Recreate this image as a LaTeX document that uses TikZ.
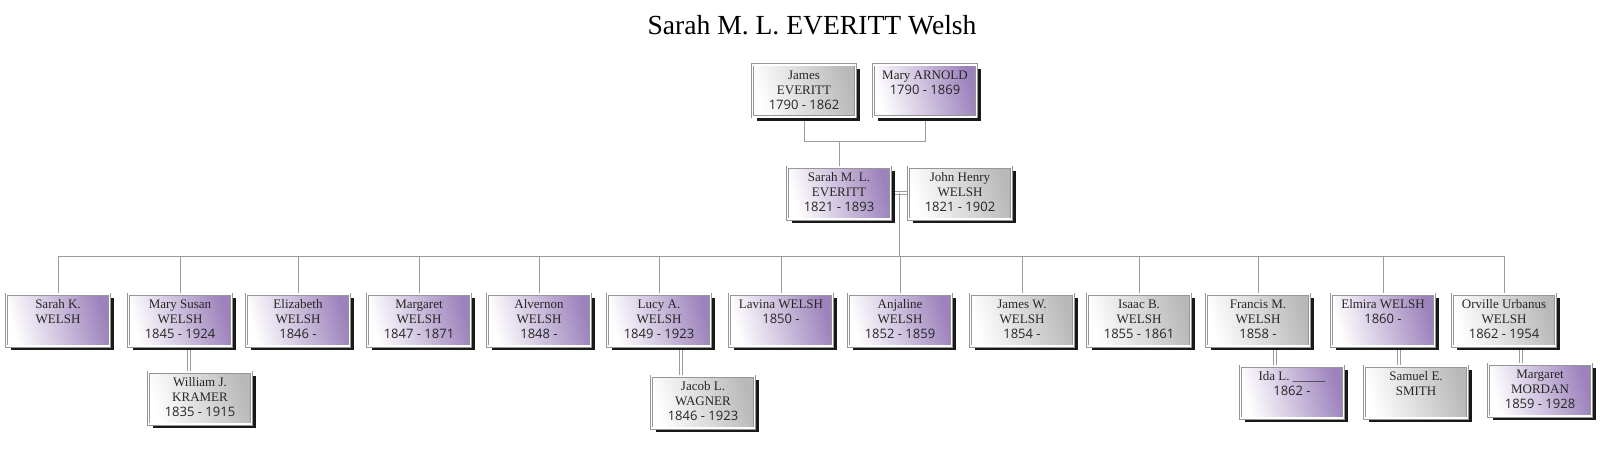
\documentclass[tikz,border=0pt]{standalone}
\usepackage{fontspec}
\newfontfamily\datefont{Open Sans}
\newfontfamily\namefont{Liberation Serif}
\usepackage{tikz}
\usetikzlibrary{calc,shadows,backgrounds}
\definecolor{femcol}{RGB}{156,130,188}
\definecolor{malcol}{RGB}{184,184,184}
\definecolor{linecol}{RGB}{155,155,155}
\definecolor{boxedge}{RGB}{150,150,150}

\newcommand{\famtext}[1]{\parbox[t][22pt][t]{50pt}{\centering\namefont\fontsize{6.5}{7.5}\selectfont\strut#1}}
\newcommand{\yrs}[1]{{\datefont\fontsize{6.5}{7.5}\selectfont #1}}

\tikzset{
  personbox/.style={rectangle, minimum width=51.5pt, minimum height=26pt, inner xsep=0pt, inner ysep=2pt,
    draw=boxedge, line width=0.45pt, double=white, double distance=0.6pt, text=black!85,
    drop shadow={shadow xshift=2pt, shadow yshift=-2pt, fill=black, opacity=0.9}},
  femalebox/.style={personbox, left color=white, right color=femcol, shading angle=105},
  malebox/.style={personbox, left color=white, right color=malcol, shading angle=105},
  kinline/.style={draw=linecol, line width=0.5pt},
  wedline/.style={draw=linecol, line width=0.45pt, double=white, double distance=0.7pt}
}

\begin{document}
\begin{tikzpicture}[x=0.5pt, y=-0.5pt]
  \useasboundingbox (0,0) rectangle (1600,449);

  \node[font=\namefont\fontsize{13.8}{16}\selectfont] (title) at (812,25) {Sarah M. L. EVERITT Welsh};

  % Parents
  \node[malebox] (jeveritt) at (804,91) {\famtext{James\\EVERITT\\\yrs{1790 - 1862}}};
  \node[femalebox] (marnold) at (925,91) {\famtext{Mary ARNOLD\\\yrs{1790 - 1869}}};

  % Couple
  \node[femalebox] (sarahev) at (839,193) {\famtext{Sarah M. L.\\EVERITT\\\yrs{1821 - 1893}}};
  \node[malebox] (jhwelsh) at (960,193) {\famtext{John Henry\\WELSH\\\yrs{1821 - 1902}}};

  % Children
  \node[femalebox] (sarahk) at (58,320) {\famtext{Sarah K.\\WELSH}};
  \node[femalebox] (msusan) at (180,320) {\famtext{Mary Susan\\WELSH\\\yrs{1845 - 1924}}};
  \node[femalebox] (elizab) at (298,320) {\famtext{Elizabeth\\WELSH\\\yrs{1846 -}}};
  \node[femalebox] (margar) at (419,320) {\famtext{Margaret\\WELSH\\\yrs{1847 - 1871}}};
  \node[femalebox] (alvern) at (539,320) {\famtext{Alvernon\\WELSH\\\yrs{1848 -}}};
  \node[femalebox] (lucya) at (659,320) {\famtext{Lucy A.\\WELSH\\\yrs{1849 - 1923}}};
  \node[femalebox] (lavina) at (781,320) {\famtext{Lavina WELSH\\\yrs{1850 -}}};
  \node[femalebox] (anjal) at (900,320) {\famtext{Anjaline\\WELSH\\\yrs{1852 - 1859}}};
  \node[malebox] (jamesw) at (1022,320) {\famtext{James W.\\WELSH\\\yrs{1854 -}}};
  \node[malebox] (isaacb) at (1139,320) {\famtext{Isaac B.\\WELSH\\\yrs{1855 - 1861}}};
  \node[malebox] (francm) at (1258,320) {\famtext{Francis M.\\WELSH\\\yrs{1858 -}}};
  \node[femalebox] (elmira) at (1383,320) {\famtext{Elmira WELSH\\\yrs{1860 -}}};
  \node[malebox] (orville) at (1504,320) {\famtext{Orville Urbanus\\WELSH\\\yrs{1862 - 1954}}};

  % Spouses of children
  \node[malebox] (wkramer) at (200,398) {\famtext{William J.\\KRAMER\\\yrs{1835 - 1915}}};
  \node[malebox] (jwagner) at (703,402) {\famtext{Jacob L.\\WAGNER\\\yrs{1846 - 1923}}};
  \node[femalebox] (idal) at (1292,392) {\famtext{Ida L. \_\_\_\_\_\\\yrs{1862 -}}};
  \node[malebox] (ssmith) at (1416,392) {\famtext{Samuel E.\\SMITH}};
  \node[femalebox] (mmordan) at (1540,390) {\famtext{Margaret\\MORDAN\\\yrs{1859 - 1928}}};

  \coordinate (pbar) at (0,141);
  \coordinate (sbar) at (0,256);
  \coordinate (marr) at ($(sarahev.east)!0.5!(jhwelsh.west)$);

  \begin{scope}[on background layer]
    \draw[kinline] (jeveritt.south) |- (pbar -| marnold.south) -- (marnold.south);
    \draw[kinline] (sarahev.north) -- (sarahev.north |- pbar);
    \draw[wedline] (sarahev.east) -- (jhwelsh.west);
    \draw[kinline] (marr) -- (marr |- sbar);
    \draw[kinline] (sarahk.north |- sbar) -- (orville.north |- sbar);
    \foreach \c in {sarahk,msusan,elizab,margar,alvern,lucya,lavina,anjal,jamesw,isaacb,francm,elmira,orville}
      \draw[kinline] (\c.north) -- (\c.north |- sbar);
    \foreach \c/\s/\x in {msusan/wkramer/189, lucya/jwagner/681, francm/idal/1275, elmira/ssmith/1399, orville/mmordan/1521} {
      \coordinate (wx) at (\x,0);
      \draw[wedline] (\c.south -| wx) -- (\s.north -| wx);
    }
  \end{scope}
\end{tikzpicture}
\end{document}
